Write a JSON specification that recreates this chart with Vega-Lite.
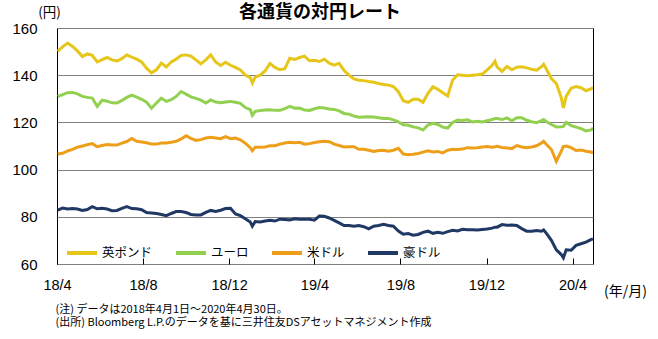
{
  "$schema": "https://vega.github.io/schema/vega-lite/v6.json",
  "width": 536,
  "height": 236,
  "autosize": "none",
  "padding": {"left": 57, "top": 28, "right": 65, "bottom": 75},
  "background": "white",
  "config": {
    "view": {"stroke": "#000000", "strokeWidth": 1},
    "font": "Liberation Sans, Noto Sans CJK JP"
  },
  "title": {
    "text": "各通貨の対円レート",
    "font": "Noto Sans CJK JP",
    "fontSize": 18,
    "fontWeight": "bold",
    "color": "#000000",
    "anchor": "middle",
    "dx": -5,
    "dy": 23,
    "offset": 6
  },
  "resolve": {"axis": {"x": "independent", "y": "independent"}},
  "layer": [
    {
      "data": {
        "values": [
          {"d": "2018-04-02", "英ポンド": 150.1, "ユーロ": 131.0, "米ドル": 106.6, "豪ドル": 82.8},
          {"d": "2018-04-09", "英ポンド": 152.0, "ユーロ": 131.8, "米ドル": 106.9, "豪ドル": 83.7},
          {"d": "2018-04-16", "英ポンド": 153.6, "ユーロ": 132.6, "米ドル": 107.9, "豪ドル": 83.3},
          {"d": "2018-04-23", "英ポンド": 152.2, "ユーロ": 132.7, "米ドル": 108.6, "豪ドル": 83.5},
          {"d": "2018-04-30", "英ポンド": 150.3, "ユーロ": 132.1, "米ドル": 109.5, "豪ドル": 83.3},
          {"d": "2018-05-07", "英ポンド": 147.9, "ユーロ": 131.0, "米ドル": 110.0, "豪ドル": 82.7},
          {"d": "2018-05-14", "英ポンド": 149.0, "ユーロ": 130.6, "米ドル": 110.5, "豪ドル": 83.1},
          {"d": "2018-05-21", "英ポンド": 148.4, "ユーロ": 130.3, "米ドル": 111.0, "豪ドル": 84.3},
          {"d": "2018-05-28", "英ポンド": 145.6, "ユーロ": 126.8, "米ドル": 109.7, "豪ドル": 83.4},
          {"d": "2018-06-04", "英ポンド": 146.6, "ユーロ": 129.4, "米ドル": 110.2, "豪ドル": 83.6},
          {"d": "2018-06-11", "英ポンド": 147.5, "ユーロ": 129.0, "米ドル": 110.6, "豪ドル": 83.3},
          {"d": "2018-06-18", "英ポンド": 146.5, "ユーロ": 128.3, "米ドル": 110.4, "豪ドル": 82.6},
          {"d": "2018-06-25", "英ポンド": 146.0, "ユーロ": 128.2, "米ドル": 110.4, "豪ドル": 82.7},
          {"d": "2018-07-02", "英ポンド": 147.0, "ユーロ": 129.3, "米ドル": 111.2, "豪ドル": 83.6},
          {"d": "2018-07-09", "英ポンド": 148.6, "ユーロ": 130.6, "米ドル": 111.9, "豪ドル": 84.3},
          {"d": "2018-07-16", "英ポンド": 147.7, "ユーロ": 131.6, "米ドル": 113.2, "豪ドル": 83.5},
          {"d": "2018-07-23", "英ポンド": 146.8, "ユーロ": 130.7, "米ドル": 112.0, "豪ドル": 83.4},
          {"d": "2018-07-30", "英ポンド": 145.6, "ユーロ": 129.8, "米ドル": 111.7, "豪ドル": 83.0},
          {"d": "2018-08-06", "英ポンド": 143.0, "ユーロ": 128.6, "米ドル": 111.4, "豪ドル": 81.8},
          {"d": "2018-08-13", "英ポンド": 141.0, "ユーロ": 126.0, "米ドル": 110.8, "豪ドル": 81.6},
          {"d": "2018-08-20", "英ポンド": 142.3, "ユーロ": 128.2, "米ドル": 110.8, "豪ドル": 81.4},
          {"d": "2018-08-27", "英ポンド": 145.1, "ユーロ": 130.3, "米ドル": 111.3, "豪ドル": 81.0},
          {"d": "2018-09-03", "英ポンド": 143.5, "ユーロ": 128.9, "米ドル": 111.3, "豪ドル": 80.5},
          {"d": "2018-09-10", "英ポンド": 145.6, "ユーロ": 129.6, "米ドル": 111.6, "豪ドル": 81.4},
          {"d": "2018-09-17", "英ポンド": 146.8, "ユーロ": 131.0, "米ドル": 112.0, "豪ドル": 82.2},
          {"d": "2018-09-24", "英ポンド": 148.4, "ユーロ": 133.1, "米ドル": 113.0, "豪ドル": 82.2},
          {"d": "2018-10-01", "英ポンド": 148.6, "ユーロ": 132.0, "米ドル": 114.3, "豪ドル": 81.8},
          {"d": "2018-10-08", "英ポンド": 148.1, "ユーロ": 130.8, "米ドル": 113.2, "豪ドル": 81.0},
          {"d": "2018-10-15", "英ポンド": 146.5, "ユーロ": 130.2, "米ドル": 112.4, "豪ドル": 80.8},
          {"d": "2018-10-22", "英ポンド": 144.8, "ユーロ": 129.4, "米ドル": 112.7, "豪ドル": 80.8},
          {"d": "2018-10-29", "英ポンド": 146.5, "ユーロ": 128.2, "米ドル": 113.4, "豪ドル": 81.9},
          {"d": "2018-11-05", "英ポンド": 148.6, "ユーロ": 129.5, "米ドル": 113.7, "豪ドル": 82.7},
          {"d": "2018-11-12", "英ポンド": 145.6, "ユーロ": 128.6, "米ドル": 113.4, "豪ドル": 82.3},
          {"d": "2018-11-19", "英ポンド": 144.1, "ユーロ": 128.3, "米ドル": 113.1, "豪ドル": 82.8},
          {"d": "2018-11-26", "英ポンド": 145.5, "ユーロ": 128.6, "米ドル": 114.0, "豪ドル": 83.5},
          {"d": "2018-12-03", "英ポンド": 144.2, "ユーロ": 128.9, "米ドル": 113.1, "豪ドル": 83.6},
          {"d": "2018-12-10", "英ポンド": 143.3, "ユーロ": 128.5, "米ドル": 113.4, "豪ドル": 81.2},
          {"d": "2018-12-17", "英ポンド": 142.2, "ユーロ": 128.1, "米ドル": 112.6, "豪ドル": 80.5},
          {"d": "2018-12-24", "英ポンド": 140.1, "ユーロ": 126.3, "米ドル": 111.2, "豪ドル": 79.2},
          {"d": "2018-12-31", "英ポンド": 139.0, "ユーロ": 125.4, "米ドル": 109.3, "豪ドル": 77.8},
          {"d": "2019-01-03", "英ポンド": 136.7, "ユーロ": 123.0, "米ドル": 108.0, "豪ドル": 76.0},
          {"d": "2019-01-07", "英ポンド": 139.2, "ユーロ": 124.7, "米ドル": 109.5, "豪ドル": 78.0},
          {"d": "2019-01-14", "英ポンド": 140.0, "ユーロ": 125.0, "米ドル": 109.5, "豪ドル": 77.8},
          {"d": "2019-01-21", "英ポンド": 141.8, "ユーロ": 125.3, "米ドル": 109.6, "豪ドル": 78.2},
          {"d": "2019-01-28", "英ポンド": 145.0, "ユーロ": 125.4, "米ドル": 110.1, "豪ドル": 78.5},
          {"d": "2019-02-04", "英ポンド": 143.3, "ユーロ": 125.1, "米ドル": 110.1, "豪ドル": 78.2},
          {"d": "2019-02-11", "英ポンド": 142.3, "ユーロ": 125.1, "米ドル": 110.8, "豪ドル": 79.0},
          {"d": "2019-02-18", "英ポンド": 142.8, "ユーロ": 125.8, "米ドル": 111.3, "豪ドル": 78.9},
          {"d": "2019-02-25", "英ポンド": 147.2, "ユーロ": 126.8, "米ドル": 111.6, "豪ドル": 78.7},
          {"d": "2019-03-04", "英ポンド": 146.7, "ユーロ": 126.0, "米ドル": 111.4, "豪ドル": 79.2},
          {"d": "2019-03-11", "英ポンド": 147.5, "ユーロ": 126.1, "米ドル": 111.6, "豪ドル": 79.0},
          {"d": "2019-03-18", "英ポンド": 148.1, "ユーロ": 125.2, "米ドル": 110.8, "豪ドル": 79.0},
          {"d": "2019-03-25", "英ポンド": 146.1, "ユーロ": 125.1, "米ドル": 111.0, "豪ドル": 79.0},
          {"d": "2019-04-01", "英ポンド": 146.3, "ユーロ": 125.8, "米ドル": 111.5, "豪ドル": 78.6},
          {"d": "2019-04-08", "英ポンド": 145.8, "ユーロ": 126.3, "米ドル": 111.8, "豪ドル": 80.3},
          {"d": "2019-04-15", "英ポンド": 146.8, "ユーロ": 126.1, "米ドル": 112.0, "豪ドル": 80.2},
          {"d": "2019-04-22", "英ポンド": 145.1, "ユーロ": 125.7, "米ドル": 111.8, "豪ドル": 79.5},
          {"d": "2019-04-29", "英ポンド": 144.3, "ユーロ": 125.5, "米ドル": 110.8, "豪ドル": 78.5},
          {"d": "2019-05-06", "英ポンド": 145.0, "ユーロ": 124.9, "米ドル": 110.2, "豪ドル": 77.4},
          {"d": "2019-05-13", "英ポンド": 142.0, "ユーロ": 123.8, "米ドル": 109.6, "豪ドル": 76.3},
          {"d": "2019-05-20", "英ポンド": 140.0, "ユーロ": 123.5, "米ドル": 109.7, "豪ドル": 76.3},
          {"d": "2019-05-27", "英ポンド": 138.4, "ユーロ": 122.7, "米ドル": 109.7, "豪ドル": 76.0},
          {"d": "2019-06-03", "英ポンド": 137.9, "ユーロ": 122.2, "米ドル": 108.6, "豪ドル": 76.3},
          {"d": "2019-06-10", "英ポンド": 137.7, "ユーロ": 122.3, "米ドル": 108.6, "豪ドル": 75.8},
          {"d": "2019-06-17", "英ポンド": 137.3, "ユーロ": 122.4, "米ドル": 108.2, "豪ドル": 74.9},
          {"d": "2019-06-24", "英ポンド": 137.0, "ユーロ": 122.3, "米ドル": 107.7, "豪ドル": 76.0},
          {"d": "2019-07-01", "英ポンド": 136.5, "ユーロ": 122.0, "米ドル": 108.1, "豪ドル": 76.3},
          {"d": "2019-07-08", "英ポンド": 136.1, "ユーロ": 121.7, "米ドル": 108.2, "豪ドル": 76.8},
          {"d": "2019-07-15", "英ポンド": 135.8, "ユーロ": 121.7, "米ドル": 107.8, "豪ドル": 76.3},
          {"d": "2019-07-22", "英ポンド": 135.2, "ユーロ": 121.1, "米ドル": 108.2, "豪ドル": 76.0},
          {"d": "2019-07-29", "英ポンド": 133.0, "ユーロ": 120.2, "米ドル": 109.0, "豪ドル": 74.0},
          {"d": "2019-08-05", "英ポンド": 129.2, "ユーロ": 119.0, "米ドル": 106.6, "豪ドル": 72.6},
          {"d": "2019-08-12", "英ポンド": 128.5, "ユーロ": 118.8, "米ドル": 106.3, "豪ドル": 72.9},
          {"d": "2019-08-19", "英ポンド": 129.8, "ユーロ": 118.1, "米ドル": 106.5, "豪ドル": 72.2},
          {"d": "2019-08-26", "英ポンド": 129.8, "ユーロ": 117.7, "米ドル": 106.8, "豪ドル": 72.5},
          {"d": "2019-09-02", "英ポンド": 128.5, "ユーロ": 116.8, "米ドル": 107.4, "豪ドル": 73.4},
          {"d": "2019-09-09", "英ポンド": 132.3, "ユーロ": 118.9, "米ドル": 108.0, "豪ドル": 73.9},
          {"d": "2019-09-16", "英ポンド": 135.1, "ユーロ": 119.6, "米ドル": 107.5, "豪ドル": 73.0},
          {"d": "2019-09-23", "英ポンド": 134.0, "ユーロ": 119.1, "米ドル": 107.7, "豪ドル": 73.4},
          {"d": "2019-09-30", "英ポンド": 132.6, "ユーロ": 118.0, "米ドル": 107.1, "豪ドル": 73.0},
          {"d": "2019-10-07", "英ポンド": 131.2, "ユーロ": 117.6, "米ドル": 108.2, "豪ドル": 73.7},
          {"d": "2019-10-14", "英ポンド": 138.0, "ユーロ": 120.0, "米ドル": 108.6, "豪ドル": 74.3},
          {"d": "2019-10-21", "英ポンド": 140.2, "ユーロ": 121.0, "米ドル": 108.5, "豪ドル": 74.0},
          {"d": "2019-10-28", "英ポンド": 140.0, "ユーロ": 120.8, "米ドル": 108.7, "豪ドル": 74.7},
          {"d": "2019-11-04", "英ポンド": 139.8, "ユーロ": 121.1, "米ドル": 109.3, "豪ドル": 74.5},
          {"d": "2019-11-11", "英ポンド": 140.0, "ユーロ": 120.2, "米ドル": 109.2, "豪ドル": 74.5},
          {"d": "2019-11-18", "英ポンド": 140.2, "ユーロ": 120.5, "米ドル": 109.3, "豪ドル": 74.4},
          {"d": "2019-11-25", "英ポンド": 140.5, "ユーロ": 120.2, "米ドル": 109.6, "豪ドル": 74.6},
          {"d": "2019-12-02", "英ポンド": 142.3, "ユーロ": 120.7, "米ドル": 109.8, "豪ドル": 74.8},
          {"d": "2019-12-09", "英ポンド": 144.2, "ユーロ": 121.2, "米ドル": 109.5, "豪ドル": 75.2},
          {"d": "2019-12-13", "英ポンド": 145.9, "ユーロ": 121.6, "米ドル": 109.7, "豪ドル": 75.6},
          {"d": "2019-12-16", "英ポンド": 143.5, "ユーロ": 121.6, "米ドル": 109.9, "豪ドル": 75.6},
          {"d": "2019-12-23", "英ポンド": 141.6, "ユーロ": 121.2, "米ドル": 109.4, "豪ドル": 76.7},
          {"d": "2019-12-30", "英ポンド": 143.7, "ユーロ": 121.9, "米ドル": 109.2, "豪ドル": 76.4},
          {"d": "2020-01-06", "英ポンド": 142.3, "ユーロ": 120.7, "米ドル": 108.9, "豪ドル": 76.5},
          {"d": "2020-01-13", "英ポンド": 143.4, "ユーロ": 122.0, "米ドル": 110.2, "豪ドル": 76.3},
          {"d": "2020-01-20", "英ポンド": 143.6, "ユーロ": 122.0, "米ドル": 109.6, "豪ドル": 75.0},
          {"d": "2020-01-27", "英ポンド": 143.1, "ユーロ": 120.9, "米ドル": 109.3, "豪ドル": 73.9},
          {"d": "2020-02-03", "英ポンド": 142.5, "ユーロ": 120.3, "米ドル": 109.6, "豪ドル": 73.9},
          {"d": "2020-02-10", "英ポンド": 142.1, "ユーロ": 119.9, "米ドル": 110.1, "豪ドル": 74.2},
          {"d": "2020-02-17", "英ポンド": 143.6, "ユーロ": 120.7, "米ドル": 111.3, "豪ドル": 73.9},
          {"d": "2020-02-20", "英ポンド": 144.6, "ユーロ": 121.2, "米ドル": 112.0, "豪ドル": 74.4},
          {"d": "2020-02-24", "英ポンド": 142.5, "ユーロ": 120.3, "米ドル": 110.6, "豪ドル": 73.0},
          {"d": "2020-03-02", "英ポンド": 138.6, "ユーロ": 119.1, "米ドル": 108.5, "豪ドル": 70.0},
          {"d": "2020-03-09", "英ポンド": 136.5, "ユーロ": 118.1, "米ドル": 103.5, "豪ドル": 66.0},
          {"d": "2020-03-16", "英ポンド": 130.5, "ユーロ": 118.2, "米ドル": 107.8, "豪ドル": 64.0},
          {"d": "2020-03-19", "英ポンド": 126.1, "ユーロ": 118.3, "米ドル": 109.8, "豪ドル": 62.6},
          {"d": "2020-03-23", "英ポンド": 131.0, "ユーロ": 120.0, "米ドル": 110.0, "豪ドル": 66.0},
          {"d": "2020-03-30", "英ポンド": 134.5, "ユーロ": 118.6, "米ドル": 109.3, "豪ドル": 65.8},
          {"d": "2020-04-06", "英ポンド": 135.2, "ユーロ": 118.0, "米ドル": 108.1, "豪ドル": 67.9},
          {"d": "2020-04-13", "英ポンド": 134.7, "ユーロ": 117.4, "米ドル": 108.3, "豪ドル": 68.6},
          {"d": "2020-04-20", "英ポンド": 133.4, "ユーロ": 116.4, "米ドル": 107.8, "豪ドル": 69.3},
          {"d": "2020-04-27", "英ポンド": 134.2, "ユーロ": 116.8, "米ドル": 107.5, "豪ドル": 70.3},
          {"d": "2020-04-30", "英ポンド": 134.8, "ユーロ": 117.5, "米ドル": 107.0, "豪ドル": 70.7}
        ]
      },
      "transform": [{"fold": ["英ポンド", "ユーロ", "米ドル", "豪ドル"], "as": ["c", "v"]}],
      "mark": {"type": "line", "strokeWidth": 3, "clip": true},
      "encoding": {
        "x": {
          "field": "d",
          "type": "temporal",
          "scale": {"type": "utc", "domain": [{"year": 2018, "month": 4, "date": 1, "utc": true}, {"year": 2020, "month": 4, "date": 30, "utc": true}]},
          "axis": {
            "orient": "bottom",
            "values": [
              {"year": 2018, "month": 4, "date": 1, "utc": true},
              {"year": 2018, "month": 8, "date": 1, "utc": true},
              {"year": 2018, "month": 12, "date": 1, "utc": true},
              {"year": 2019, "month": 4, "date": 1, "utc": true},
              {"year": 2019, "month": 8, "date": 1, "utc": true},
              {"year": 2019, "month": 12, "date": 1, "utc": true},
              {"year": 2020, "month": 4, "date": 1, "utc": true}
            ],
            "format": "%y/%-m",
            "domain": false,
            "grid": false,
            "ticks": true,
            "tickColor": "#000000",
            "tickSize": -6,
            "tickWidth": 1,
            "labelFont": "Liberation Sans",
            "labelFontSize": 14.5,
            "labelColor": "#000000",
            "labelPadding": 20,
            "labelFlush": false,
            "title": "(年/月)",
            "titleFont": "Noto Sans CJK JP",
            "titleFontSize": 14,
            "titleFontWeight": "normal",
            "titleColor": "#000000",
            "titleAlign": "center",
            "titleBaseline": "middle",
            "titleAnchor": "start",
            "titleX": 568,
            "titleY": 27
          }
        },
        "y": {
          "field": "v",
          "type": "quantitative",
          "scale": {"domain": [60, 160], "nice": false, "zero": false},
          "axis": {
            "orient": "left",
            "values": [60, 80, 100, 120, 140, 160],
            "domain": false,
            "ticks": false,
            "grid": true,
            "gridColor": "#808080",
            "gridWidth": 1,
            "labelFont": "Liberation Sans",
            "labelFontSize": 15,
            "labelColor": "#000000",
            "labelPadding": 20,
            "title": "(円)",
            "titleFont": "Noto Sans CJK JP",
            "titleFontSize": 13.5,
            "titleFontWeight": "normal",
            "titleColor": "#000000",
            "titleAngle": 0,
            "titleAlign": "center",
            "titleBaseline": "middle",
            "titleAnchor": "start",
            "titleX": -8,
            "titleY": -16
          }
        },
        "color": {
          "field": "c",
          "type": "nominal",
          "scale": {"domain": ["英ポンド", "ユーロ", "米ドル", "豪ドル"], "range": ["#E6C619", "#92D050", "#EE9F1A", "#1F3864"]},
          "legend": {
            "orient": "none",
            "legendX": 8,
            "legendY": 208,
            "direction": "horizontal",
            "title": null,
            "symbolType": "stroke",
            "symbolSize": 900,
            "symbolStrokeWidth": 4,
            "labelFont": "Noto Sans CJK JP",
            "labelFontSize": 12.5,
            "labelColor": "#000000",
            "labelOffset": 3,
            "columnPadding": 15,
            "padding": 0
          }
        }
      }
    },
    {
      "data": {"values": []},
      "mark": {"type": "rule"},
      "encoding": {
        "x": {
          "field": "d",
          "type": "temporal",
          "scale": {"type": "utc"},
          "axis": {
            "orient": "bottom",
            "labels": false,
            "ticks": false,
            "domain": false,
            "grid": false,
            "title": "(注) データは2018年4月1日～2020年4月30日。",
            "titleFont": "Noto Sans CJK JP",
            "titleFontSize": 11,
            "titleFontWeight": "normal",
            "titleColor": "#000000",
            "titleAlign": "left",
            "titleBaseline": "middle",
            "titleAnchor": "start",
            "titleX": -2,
            "titleY": 45
          }
        },
        "y": {
          "field": "v",
          "type": "quantitative",
          "axis": {
            "orient": "right",
            "labels": false,
            "ticks": false,
            "domain": false,
            "grid": false,
            "title": "(出所) Bloomberg L.P.のデータを基に三井住友DSアセットマネジメント作成",
            "titleFont": "Noto Sans CJK JP",
            "titleFontSize": 11,
            "titleFontWeight": "normal",
            "titleColor": "#000000",
            "titleAngle": 0,
            "titleAlign": "left",
            "titleBaseline": "middle",
            "titleAnchor": "start",
            "titleX": -538,
            "titleY": 294
          }
        }
      }
    }
  ]
}
